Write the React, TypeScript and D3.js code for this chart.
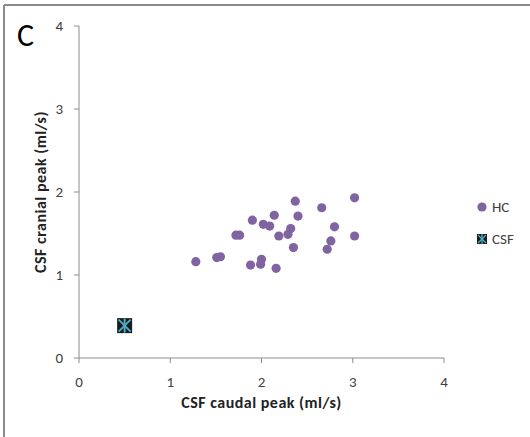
import React from "react";
import * as d3 from "d3";

// HC group: caudal peak (x) vs cranial peak (y), ml/s
const hcCaudal = [1.28, 1.51, 1.55, 1.72, 1.76, 1.9, 1.88, 2.0, 1.99, 2.02, 2.09, 2.14, 2.16, 2.19, 2.29, 2.32, 2.35, 2.37, 2.4, 2.66, 2.8, 2.76, 2.72, 3.02, 3.02];
const hcCranial = [1.16, 1.21, 1.22, 1.48, 1.48, 1.66, 1.12, 1.19, 1.13, 1.61, 1.59, 1.72, 1.08, 1.47, 1.49, 1.56, 1.33, 1.89, 1.71, 1.81, 1.58, 1.41, 1.31, 1.93, 1.47];
// CSF patient
const csfCaudal = [0.5];
const csfCranial = [0.39];

const xTicks = [0, 1, 2, 3, 4];
const yTicks = [0, 1, 2, 3, 4];

const font = "Carlito, 'Open Sans', 'Liberation Sans', sans-serif";

export default function App() {
  const width = 530;
  const height = 437;

  const x = d3.scaleLinear().domain([0, 4]).range([79, 444]);
  const y = d3.scaleLinear().domain([0, 4]).range([358, 26]);

  const axisColor = "#8c8c8c";
  const purple = "#8064a2";

  return (
    <svg
      width={width}
      height={height}
      style={{ position: "absolute", left: 0, top: 0, background: "#fff" }}
    >
      {/* outer frame */}
      <line x1={4} y1={5} x2={width} y2={5} stroke="#8a8a8a" strokeWidth={2} />
      <line x1={4} y1={5} x2={4} y2={height} stroke="#8a8a8a" strokeWidth={2} />

      <text x={17} y={46} fontFamily={font} fontSize={32} fill="#000">
        C
      </text>

      {/* axes */}
      <line x1={x(0)} y1={y(0)} x2={x(4)} y2={y(0)} stroke={axisColor} strokeWidth={1} />
      <line x1={x(0)} y1={y(0)} x2={x(0)} y2={y(4)} stroke={axisColor} strokeWidth={1} />
      {xTicks.map((t) => (
        <g key={"x" + t}>
          <line x1={x(t)} y1={y(0)} x2={x(t)} y2={y(0) + 5} stroke={axisColor} />
          <text
            x={x(t)}
            y={387}
            textAnchor="middle"
            fontFamily={font}
            fontSize={15}
            fill="#404040"
          >
            {t}
          </text>
        </g>
      ))}
      {yTicks.map((t) => (
        <g key={"y" + t}>
          <line x1={x(0) - 5} y1={y(t)} x2={x(0)} y2={y(t)} stroke={axisColor} />
          <text
            x={63}
            y={y(t) + 5}
            textAnchor="end"
            fontFamily={font}
            fontSize={15}
            fill="#404040"
          >
            {t}
          </text>
        </g>
      ))}

      <text
        x={(x(0) + x(4)) / 2}
        y={408}
        textAnchor="middle"
        fontFamily={font}
        fontSize={16}
        fontWeight="bold"
        letterSpacing={0.5}
        fill="#222"
      >
        CSF caudal peak (ml/s)
      </text>
      <text
        transform={`translate(46, ${y(2)}) rotate(-90)`}
        textAnchor="middle"
        fontFamily={font}
        fontSize={16}
        fontWeight="bold"
        letterSpacing={0.5}
        fill="#222"
      >
        CSF cranial peak (ml/s)
      </text>

      {/* HC points */}
      {hcCaudal.map((v, i) => (
        <circle key={"hc" + i} cx={x(v)} cy={y(hcCranial[i])} r={4.6} fill={purple} />
      ))}

      {/* CSF marker */}
      {csfCaudal.map((v, i) => {
        const cx = x(v);
        const cy = y(csfCranial[i]);
        return (
          <g key={"csf" + i}>
            <rect x={cx - 7.5} y={cy - 7.5} width={15} height={15} fill="#1b1b1b" />
            <line x1={cx - 6} y1={cy - 6} x2={cx + 6} y2={cy + 6} stroke="#4bacc6" strokeWidth={2} />
            <line x1={cx - 6} y1={cy + 6} x2={cx + 6} y2={cy - 6} stroke="#4bacc6" strokeWidth={2} />
            <line x1={cx} y1={cy - 7} x2={cx} y2={cy + 7} stroke="#4bacc6" strokeWidth={2} />
          </g>
        );
      })}

      {/* legend */}
      <circle cx={482} cy={207} r={4.6} fill={purple} />
      <text x={492} y={212} fontFamily={font} fontSize={15} fill="#404040">
        HC
      </text>
      <rect x={477} y={234} width={10} height={10} fill="#1b1b1b" />
      <line x1={478} y1={235} x2={486} y2={243} stroke="#4bacc6" strokeWidth={1.3} />
      <line x1={478} y1={243} x2={486} y2={235} stroke="#4bacc6" strokeWidth={1.3} />
      <line x1={482} y1={234} x2={482} y2={244} stroke="#4bacc6" strokeWidth={1.3} />
      <text x={492} y={244} fontFamily={font} fontSize={15} fill="#404040">
        CSF
      </text>
    </svg>
  );
}
